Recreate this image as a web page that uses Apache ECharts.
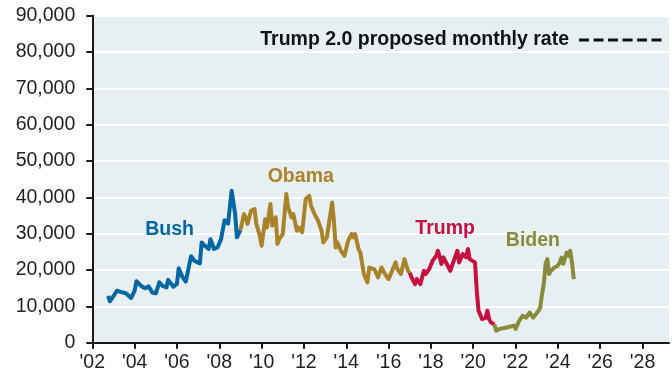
<!DOCTYPE html>
<html>
<head>
<meta charset="utf-8">
<script src="https://cdn.jsdelivr.net/npm/echarts@6/dist/echarts.min.js"></script>
<style>
  html, body { margin: 0; padding: 0; background: #ffffff; }
  #chart { width: 672px; height: 379px; }
</style>
</head>
<body>
<div id="chart"></div>
<script>
// Monthly removals by administration (month, value)
const bushMonths = ['2002-10','2002-11','2003-01','2003-03','2003-05','2003-08','2003-09','2003-11','2004-01','2004-02','2004-05','2004-07','2004-09','2004-11','2005-01','2005-03','2005-05','2005-07','2005-08','2005-11','2006-01','2006-02','2006-04','2006-06','2006-09','2006-11','2007-02','2007-03','2007-05','2007-07','2007-08','2007-10','2007-12','2008-02','2008-04','2008-06','2008-08','2008-10','2008-11','2009-01'];
const bushValues = [12900,11400,12800,14300,14000,13600,14000,12300,14300,16900,15500,15000,15500,13800,13600,16600,15600,15200,17300,15400,16200,20500,18200,16800,23800,22500,21800,27600,26600,25800,28500,25800,26200,28500,33700,32800,41800,35400,29000,31000];

const obamaMonths = ['2009-01','2009-03','2009-04','2009-05','2009-07','2009-09','2009-10','2009-12','2010-01','2010-03','2010-04','2010-06','2010-07','2010-09','2010-10','2010-11','2011-01','2011-03','2011-04','2011-06','2011-07','2011-09','2011-10','2011-12','2012-01','2012-02','2012-04','2012-05','2012-07','2012-08','2012-09','2012-11','2012-12','2013-02','2013-05','2013-06','2013-07','2013-08','2013-10','2013-12','2014-02','2014-04','2014-05','2014-06','2014-08','2014-09','2014-11','2015-01','2015-02','2015-05','2015-07','2015-09','2015-11','2016-01','2016-03','2016-05','2016-06','2016-08','2016-10','2016-12','2017-01'];
const obamaValues = [31000,35400,34500,32700,36300,36800,32700,29400,26700,34000,31700,38200,32200,34500,27200,28500,29900,40900,37300,34500,35400,30800,31700,30400,29900,39500,40400,37700,35400,35900,33600,30800,27600,29000,38600,33600,26200,27600,25300,23900,28000,29900,29000,29900,25700,24800,18900,16600,20700,20200,18000,20700,18900,17500,19800,22100,20300,18900,23000,19800,19300];

const trumpMonths = ['2017-01','2017-02','2017-04','2017-05','2017-07','2017-09','2017-10','2017-12','2018-02','2018-04','2018-05','2018-07','2018-08','2018-10','2018-12','2019-02','2019-04','2019-05','2019-07','2019-09','2019-10','2019-11','2020-02','2020-03','2020-04','2020-06','2020-08','2020-09','2020-10','2020-11','2020-12','2021-01'];
const trumpValues = [19300,18000,16100,17500,16100,19800,18900,20200,22600,23900,25300,21700,23500,21700,19800,22600,25300,22100,24400,23500,25800,23000,22100,14300,8800,6500,6900,8800,6500,5600,5800,5000];

const bidenMonths = ['2021-01','2021-02','2021-04','2021-08','2021-12','2022-01','2022-03','2022-04','2022-05','2022-07','2022-09','2022-11','2022-12','2023-02','2023-03','2023-04','2023-05','2023-06','2023-07','2023-08','2023-09','2023-11','2024-01','2024-02','2024-03','2024-04','2024-06','2024-07','2024-08','2024-09','2024-10'];
const bidenValues = [5000,3300,3800,4200,4700,3800,6000,6500,7400,6900,8300,6900,6500,8800,9700,13400,16100,21700,23000,18900,19800,20700,21200,22100,23400,21700,24800,23900,25300,22100,17500];

// Proposed rate: 1 million per year
const proposedMonths = ['2025-01','2028-12'];
const proposedValues = [83333,83333];
const proposedText = 'Trump 2.0 proposed monthly rate';

// Axis ticks
const yTicks = [0,10000,20000,30000,40000,50000,60000,70000,80000,90000];
const xTickYears = [2002,2004,2006,2008,2010,2012,2014,2016,2018,2020,2022,2024,2026,2028];

function monthToYear(m) {
  const [y, mo] = m.split('-').map(Number);
  return y + (mo - 1) / 12;
}
function pairs(months, values) {
  return months.map((m, i) => [monthToYear(m), values[i]]);
}

const FONT = "'Liberation Sans', Arial, sans-serif";
const LABEL_SIZE = 19.5;

function adminSeries(name, months, values, color, labelAt) {
  return {
    name: name,
    type: 'line',
    data: pairs(months, values),
    showSymbol: false,
    symbol: 'none',
    lineStyle: { color: color, width: 4, join: 'round' },
    itemStyle: { color: color },
    z: 3,
    silent: true,
    markPoint: {
      symbol: 'circle',
      symbolSize: 0,
      silent: true,
      label: {
        show: true,
        position: 'inside',
        formatter: name,
        color: color,
        fontFamily: FONT,
        fontWeight: 'bold',
        fontSize: LABEL_SIZE
      },
      data: [{ coord: labelAt }]
    }
  };
}

const chart = echarts.init(document.getElementById('chart'), null, { renderer: 'canvas' });

const option = {
  animation: false,
  backgroundColor: '#ffffff',
  textStyle: { fontFamily: FONT },
  grid: {
    left: 92.3,
    right: 3,
    top: 15.7,
    bottom: 36.3,
    show: true,
    backgroundColor: '#e7eff3',
    borderWidth: 0,
    containLabel: false,
    outerBoundsMode: 'none'
  },
  xAxis: {
    type: 'value',
    min: xTickYears[0],
    max: 2029.25,
    interval: 2,
    axisLine: { show: true, onZero: false, lineStyle: { color: '#1a1a1a', width: 2 } },
    axisTick: { show: true, inside: false, length: 6, lineStyle: { color: '#1a1a1a', width: 2 } },
    axisLabel: {
      show: true,
      margin: 10,
      color: '#1f1f1f',
      fontFamily: FONT,
      fontSize: LABEL_SIZE,
      showMaxLabel: false,
      formatter: function (v) {
        return xTickYears.indexOf(v) >= 0 ? "'" + String(v).slice(2) : '';
      }
    },
    splitLine: { show: false }
  },
  yAxis: {
    type: 'value',
    min: yTicks[0],
    max: yTicks[yTicks.length - 1],
    interval: yTicks[1] - yTicks[0],
    axisLine: { show: true, onZero: false, lineStyle: { color: '#1a1a1a', width: 2 } },
    axisTick: { show: true, inside: false, length: 6, lineStyle: { color: '#1a1a1a', width: 2 } },
    axisLabel: {
      show: true,
      margin: 17,
      color: '#1f1f1f',
      fontFamily: FONT,
      fontSize: LABEL_SIZE,
      formatter: function (v) { return v.toLocaleString('en-US'); }
    },
    splitLine: { show: true, lineStyle: { color: '#ffffff', width: 2 } }
  },
  series: [
    adminSeries('Bush', bushMonths, bushValues, '#0067a3', [2005.65, 31200]),
    adminSeries('Obama', obamaMonths, obamaValues, '#a9832a', [2011.85, 45600]),
    adminSeries('Trump', trumpMonths, trumpValues, '#c4113f', [2018.67, 31500]),
    adminSeries('Biden', bidenMonths, bidenValues, '#878b3a', [2022.82, 28100]),
    {
      name: proposedText,
      type: 'line',
      showSymbol: true,
      symbol: 'circle',
      symbolSize: 0,
      silent: true,
      z: 4,
      lineStyle: { color: '#111111', width: 3, type: [10, 4.5] },
      itemStyle: { color: '#111111' },
      data: pairs(proposedMonths, proposedValues).map(function (p, i) {
        return i === 0 ? {
          value: p,
          label: {
            show: true,
            position: 'left',
            distance: 10,
            formatter: proposedText,
            color: '#111111',
            fontFamily: FONT,
            fontWeight: 'bold',
            fontSize: LABEL_SIZE
          }
        } : { value: p };
      })
    }
  ]
};

chart.setOption(option);
</script>
</body>
</html>
